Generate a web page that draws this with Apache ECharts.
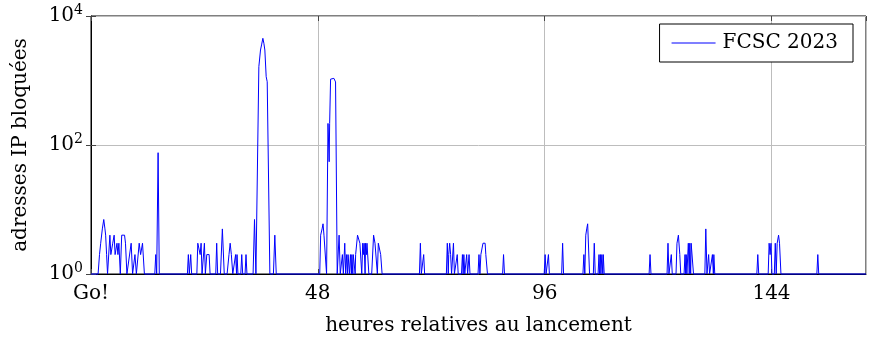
<!DOCTYPE html>
<html>
<head>
<meta charset="utf-8">
<script src="https://cdn.jsdelivr.net/npm/echarts@6/dist/echarts.min.js"></script>
<style>
html,body{margin:0;padding:0;background:#fff;}
#chart{width:871px;height:339px;}
</style>
</head>
<body>
<div id="chart"></div>
<script>
// hours since launch
const hours = [
  0,
  1.5, 1.8, 2.05, 2.4, 2.7, 2.95, 3.1, 3.3, 3.5, 3.8, 4.0, 4.2, 4.4, 4.6, 4.9, 5.1, 5.3, 5.5, 5.7, 5.9, 6.2, 6.5, 6.8, 7.1, 7.3, 7.6, 8.0, 8.5, 8.8, 9.1, 9.3, 9.6, 9.9, 10.2, 10.5, 10.9, 11.3,
  13.5, 13.7, 13.9, 14.2, 14.45,
  20.4, 20.6, 20.8, 20.9, 21.1, 21.3, 22.4, 22.6, 22.9, 23.1, 23.3, 23.5, 23.8, 24.0, 24.2, 24.4, 24.5, 24.8, 25.0, 25.2, 26.4, 26.6, 26.8, 27.4, 27.8, 28.2, 28.8, 29.2, 29.45, 29.7, 30.0, 30.4, 30.6, 30.8, 30.9, 31.1, 31.7, 31.9, 32.1, 32.6, 32.8, 33.0,
  34.3, 34.6, 34.9, 35.17, 35.52, 35.74, 35.87, 36.09, 36.37, 36.58, 36.79, 37.07, 37.29, 37.85,
  38.6, 38.9, 39.2,
  48.4, 48.6, 48.9, 49.1, 49.3, 49.6, 49.85, 49.95, 50.15, 50.3, 50.4, 50.5, 50.7, 51.0, 51.4, 51.6, 51.75, 52.1,
  52.3, 52.5, 52.75, 53.0, 53.2, 53.4, 53.5, 53.7, 53.9, 54.1, 54.3, 54.4, 54.6, 54.7, 54.9, 55.1, 55.2, 55.4, 55.5, 55.7, 55.9, 56.0, 56.2, 56.4, 56.7, 56.9, 57.1, 57.3, 57.5, 57.7, 57.8, 58.0, 58.1, 58.3, 58.4, 58.6, 58.8, 59.4, 59.8, 60.1, 60.4, 60.6, 60.8, 61.1, 61.3, 61.6,
  69.5, 69.7, 69.9, 70.2, 70.4, 70.6,
  75.2, 75.4, 75.6, 75.7, 75.9, 76.1, 76.3, 76.5, 76.7, 76.9, 77.3, 77.5, 77.7, 78.4, 78.6, 78.75, 78.8, 78.9, 79.1, 79.3, 79.5, 79.7, 79.8, 80.0, 80.2,
  81.9, 82.1, 82.3, 82.5, 82.7, 82.95, 83.4, 83.55, 83.7, 83.9,
  87.1, 87.3, 87.5,
  95.9, 96.1, 96.3, 96.6, 96.8, 97.0,
  99.6, 99.8, 100.0,
  104.1, 104.3, 104.5, 104.7, 104.9, 105.1, 105.3, 105.5,
  106.3, 106.5, 106.7, 107.3, 107.5, 107.6, 107.8, 107.9, 108.1, 108.3, 108.4, 108.6,
  118.1, 118.3, 118.5,
  121.9, 122.1, 122.3, 122.6, 122.8, 123.0, 123.8, 124.0, 124.3, 124.6, 124.8, 125.5, 125.7, 125.85, 125.95, 126.1, 126.2, 126.4, 126.6, 126.7, 126.9, 127.0, 127.2, 127.4, 127.5,
  129.9, 130.1, 130.35, 130.5, 130.7, 130.9, 131.3, 131.5, 131.7, 131.8, 132.0,
  140.9, 141.1, 141.3, 143.3, 143.5, 143.7, 143.9, 144.1, 144.6, 144.8, 145.0, 145.2, 145.5, 145.7, 146.0,
  153.6, 153.8, 154.0,
  164
];
// blocked IP addresses (1 = none, bottom of log axis)
const blocked = [
  1,
  1, 2, 3, 5, 7, 5, 4, 2, 1, 1, 4, 2, 2, 3, 4, 2, 2, 3, 2, 3, 1, 4, 4, 4, 3, 1, 1, 3, 1, 1, 2, 1, 1, 3, 2, 3, 1,
  1, 2, 1, 76, 1,
  1, 2, 1, 1, 2, 1, 1, 3, 3, 2, 3, 1, 1, 3, 1, 1, 2, 2, 2, 1, 1, 3, 1, 1, 5, 1, 1, 2, 3, 2, 1, 1, 2, 1, 2, 1, 1, 2, 1, 1, 2, 1,
  1, 7, 1, 1, 1640, 1740, 2970, 3560, 4510, 3780, 2970, 1145, 956, 1,
  1, 4, 1,
  1, 4, 5, 6, 4, 4, 1, 1, 216, 216, 55, 216, 1050, 1080, 1080, 1050, 950, 1,
  1, 4, 1, 1, 2, 1, 1, 3, 1, 2, 1, 2, 2, 1, 2, 1, 2, 1, 2, 2, 1, 2, 2, 4, 4, 3, 3, 1, 3, 2, 3, 1, 3, 2, 3, 3, 1, 1, 4, 3, 3, 1, 3, 3, 2, 1,
  1, 3, 1, 1, 2, 1,
  1, 3, 1, 2, 3, 2, 1, 1, 3, 1, 1, 2, 1, 1, 2, 1, 1, 2, 1, 1, 2, 1, 1, 2, 1,
  1, 2, 1, 2, 2, 3, 3, 2, 2, 1,
  1, 2, 1,
  1, 2, 1, 1, 2, 1,
  1, 3, 1,
  1, 2, 1, 4, 5, 6, 6, 1,
  1, 3, 1, 1, 2, 1, 2, 1, 2, 1, 2, 1,
  1, 2, 1,
  1, 3, 1, 1, 2, 1, 1, 3, 4, 2, 1, 1, 2, 1, 2, 1, 1, 3, 1, 3, 1, 3, 3, 3, 1,
  1, 5, 1, 1, 2, 1, 1, 2, 1, 2, 1,
  1, 2, 1, 1, 3, 2, 3, 1, 1, 3, 1, 3, 4, 3, 1,
  1, 2, 1,
  1
];
const xTicks = [0, 48, 96, 144];
const xTickText = ['Go!', '48', '96', '144'];
const seriesName = 'FCSC 2023';

const FONT = '"DejaVu Serif", serif';
const chart = echarts.init(document.getElementById('chart'), null, {renderer: 'canvas'});
const data = hours.map((h, i) => [h, blocked[i]]);

chart.setOption({
  animation: false,
  backgroundColor: '#fff',
  textStyle: {fontFamily: FONT, color: '#000'},
  grid: {left: 91, right: 5, top: 16, bottom: 65, outerBoundsMode: 'none', containLabel: false,
         show: true, borderColor: '#000', borderWidth: 1, backgroundColor: 'transparent'},
  legend: {
    right: 18, top: 24,
    backgroundColor: '#fff', borderColor: '#000', borderWidth: 1,
    padding: [9, 15, 9, 12],
    itemWidth: 44, itemHeight: 1,
    textStyle: {fontFamily: FONT, fontSize: 20, color: '#000', padding: [0, 0, 0, 2]},
    data: [{name: seriesName, icon: 'rect', itemStyle: {color: '#0000ff'}}]
  },
  xAxis: [{
    type: 'value', min: 0, max: 164, interval: 48,
    name: 'heures relatives au lancement', nameLocation: 'middle', nameGap: 42,
    nameTextStyle: {fontFamily: FONT, fontSize: 20, color: '#000'},
    axisLine: {show: true, lineStyle: {color: '#000', width: 1}},
    axisTick: {show: true, inside: true, length: 5, lineStyle: {color: '#444'}},
    axisLabel: {
      fontFamily: FONT, fontSize: 20, color: '#000', margin: 10, showMaxLabel: false,
      formatter: v => { const i = xTicks.indexOf(v); return i >= 0 ? xTickText[i] : ''; }
    },
    splitLine: {show: true, lineStyle: {color: '#bdbdbd', width: 1}}
  }, {
    type: 'value', min: 0, max: 164, interval: 48, position: 'top',
    axisLine: {show: false}, axisLabel: {show: false}, splitLine: {show: false},
    axisTick: {show: true, inside: true, length: 5, lineStyle: {color: '#444'}}
  }],
  yAxis: [{
    type: 'log', logBase: 10, min: 1, max: 10000, interval: 2,
    name: 'adresses IP bloquées', nameLocation: 'middle', nameGap: 60, nameRotate: 90,
    nameTextStyle: {fontFamily: FONT, fontSize: 20, color: '#000'},
    axisLine: {show: true, lineStyle: {color: '#000', width: 1}},
    axisTick: {show: true, inside: true, length: 5, lineStyle: {color: '#444'}},
    minorTick: {show: false},
    axisLabel: {
      margin: 8,
      formatter: v => '{b|10}{s|' + Math.round(Math.log10(v)) + '}',
      rich: {
        b: {fontFamily: FONT, fontSize: 20, color: '#000'},
        s: {fontFamily: FONT, fontSize: 14, color: '#000', padding: [0, 0, 12, 0]}
      }
    },
    splitLine: {show: true, lineStyle: {color: '#bdbdbd', width: 1}}
  }, {
    type: 'log', logBase: 10, min: 1, max: 10000, interval: 2, position: 'right',
    axisLine: {show: false}, axisLabel: {show: false}, splitLine: {show: false},
    axisTick: {show: true, inside: true, length: 5, lineStyle: {color: '#444'}}
  }],
  series: [{
    name: seriesName,
    type: 'line',
    data: data,
    symbol: 'none',
    showSymbol: false,
    lineStyle: {color: '#0000ff', width: 1},
    itemStyle: {color: '#0000ff'},
    clip: false,
    z: 5
  }]
});
</script>
</body>
</html>
